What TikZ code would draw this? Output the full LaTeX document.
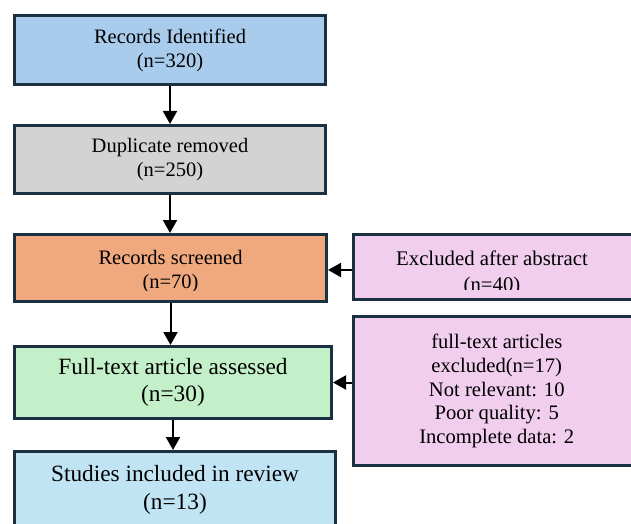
\documentclass[tikz,border=0pt]{standalone}
\usepackage{fontspec}
\setmainfont{Liberation Serif}
\usetikzlibrary{arrows.meta}
\definecolor{edgeblue}{HTML}{1B3040}
\definecolor{idblue}{HTML}{A9CBEC}
\definecolor{dupgrey}{HTML}{D3D3D3}
\definecolor{scrorange}{HTML}{F0A97F}
\definecolor{exclpink}{HTML}{F1CDEE}
\definecolor{assgreen}{HTML}{C3F0C8}
\definecolor{incblue}{HTML}{C1E4F5}
\tikzstyle{stage}=[rectangle, draw=edgeblue, line width=3pt, inner sep=0pt, align=center, text=black]
\tikzstyle{small}=[font=\fontsize{20.5}{24}\selectfont]
\tikzstyle{large}=[font=\fontsize{23.3}{27.5}\selectfont]
\newcommand{\stage}{\node[stage]}

\begin{document}
\begin{tikzpicture}[x=1pt, y=-1pt
    ,every edge/.style={draw, line width=2pt, -{Triangle[width=14pt,length=13pt]}}
]
\clip (0,0) rectangle (631,524);
\stage[fill=idblue, small, minimum width=311, minimum height=69] (rec) at (170,50) {Records Identified\\(n=320)};
\stage[fill=dupgrey, small, minimum width=311, minimum height=68] (dup) at (170,159.5) {Duplicate removed\\(n=250)};
\stage[fill=scrorange, minimum width=312, minimum height=67] (scr) at (170.5,268) {};
\stage[fill=exclpink, minimum width=286.5, minimum height=65] (exa) at (496.75,267) {};
\stage[fill=assgreen, large, minimum width=317, minimum height=72] (ass) at (173,382.5) {Full-text article assessed\\(n=30)};
\stage[fill=exclpink, font=\fontsize{20.6}{23.8}\selectfont, minimum width=286.5, minimum height=149] (exf) at (496.75,391) {full-text articles\\excluded(n=17)\\Not relevant: 10\\Poor quality: 5\\Incomplete data: 2};
\stage[fill=incblue, large, minimum width=321, minimum height=77] (inc) at (175,490) {Studies included in review\\(n=13)};
% text of the two middle boxes runs past the lower text margin
\begin{scope}
\clip (0,233) rectangle (340,290.5);
\node[small, align=center] (scrtext) at (170.5,272) {Records screened\\(n=70)};
\end{scope}
\begin{scope}
\clip (340,233) rectangle (631,289.5);
\node[font=\fontsize{20.8}{26}\selectfont, align=center] (exatext) at (492,273.5) {Excluded after abstract\\(n=40)};
\end{scope}
\coordinate (abs) at ([yshift=-3pt]exa.west);
\path
(rec.south) edge (rec.south |- dup.north)
(dup.south) edge (dup.south |- scr.north)
(scr.south) edge (scr.south |- ass.north)
(ass.south) edge (ass.south |- inc.north)
(abs) edge (scr.east |- abs)
(ass.east -| exf.west) edge (ass.east)
;
\end{tikzpicture}
\end{document}
